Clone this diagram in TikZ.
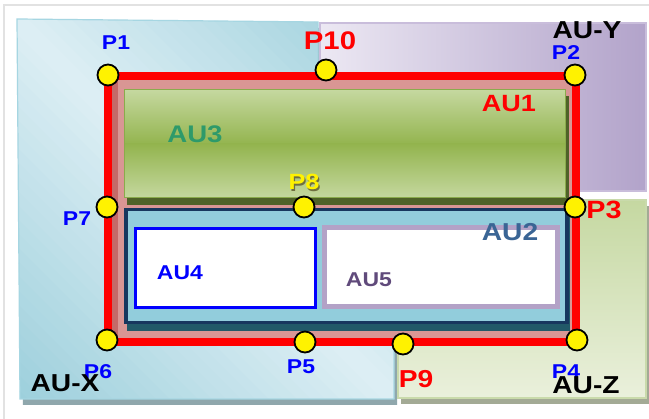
\documentclass[tikz,border=0pt]{standalone}
\usepackage{fontspec}
\setmainfont[FakeStretch=1.15]{Liberation Sans}
\definecolor{framegray}{HTML}{E2E2E2}
\definecolor{auxlight}{HTML}{DCEEF4}
\definecolor{auxdark}{HTML}{98CDDA}
\definecolor{auxedge}{HTML}{A6D6E2}
\definecolor{auxshadow}{HTML}{8FA7AC}
\definecolor{auylight}{HTML}{ECE8F3}
\definecolor{auydark}{HTML}{B2A3CA}
\definecolor{auyedge}{HTML}{C9BDDB}
\definecolor{auzlight}{HTML}{EAF0DC}
\definecolor{auzdark}{HTML}{C5D8A1}
\definecolor{auzedge}{HTML}{C9DAAB}
\definecolor{auzshadow}{HTML}{A3AA95}
\definecolor{redline}{HTML}{FF0000}
\definecolor{redshadow}{HTML}{6E1A1A}
\definecolor{pinkfill}{HTML}{D99694}
\definecolor{pinkdark}{HTML}{C46A68}
\definecolor{greenlight}{HTML}{C5D89F}
\definecolor{greenmid}{HTML}{93B44E}
\definecolor{greenedge}{HTML}{8AAB4C}
\definecolor{greenshadow}{HTML}{4F6228}
\definecolor{navy}{HTML}{17375E}
\definecolor{au2fill}{HTML}{92CDDC}
\definecolor{au2shadow}{HTML}{215968}
\definecolor{lavender}{HTML}{B3A2C7}
\definecolor{au3text}{HTML}{2E9A6A}
\definecolor{au2text}{HTML}{3A6595}
\definecolor{au5text}{HTML}{604A7B}
\definecolor{ptblue}{HTML}{0000FF}
\definecolor{txtshadow}{HTML}{6F6F40}
\newcommand{\shadowtxt}[1]{\makebox[0pt][l]{\raisebox{-1.3pt}{\hspace{1.3pt}\textcolor{txtshadow}{#1}}}\textcolor{yellow}{#1}}
\begin{document}
\begin{tikzpicture}[x=1pt,y=-1pt,
  lbl/.style={inner sep=0pt, font=\bfseries\fontsize{#1}{#1}\selectfont},
  lbl/.default=18,
  ptdot/.style={circle, draw=black, line width=1.8pt, fill=yellow, minimum size=21pt, inner sep=0pt},
  region/.style={line width=1.2pt},
]
\useasboundingbox (0,0) rectangle (649,419);
\fill[white] (0,0) rectangle (649,419);
% outer frame
\draw[framegray, line width=1.5pt] (4,419) -- (4,5) -- (649,5);

% AU-X region
\fill[auxshadow, shift={(3,6)}] (17,19) -- (318,22) -- (318,320) -- (394,320) -- (394,399) -- (20,399) -- cycle;
\begin{scope}
  \clip (17,19) -- (318,22) -- (318,320) -- (394,320) -- (394,399) -- (20,399) -- cycle;
  \begin{scope}[rotate around={45:(205,209)}]
    \foreach \i in {0,...,28} {
      \pgfmathtruncatemacro{\p}{\i*100/28}
      \fill[auxdark!\p!auxlight] ({205+\i*10-0.4},-200) rectangle ({205+(\i+1)*10+0.4},620);
      \fill[auxdark!\p!auxlight] ({205-(\i+1)*10-0.4},-200) rectangle ({205-\i*10+0.4},620);
    }
  \end{scope}
\end{scope}
\draw[region, auxedge] (17,19) -- (318,22) -- (318,320) -- (394,320) -- (394,399) -- (20,399) -- cycle;

% AU-Y region
\shade[left color=auylight, right color=auydark] (320,23) rectangle (646,191);
\draw[region, auyedge] (320,23) rectangle (646,191);

% AU-Z region
\fill[auzshadow, shift={(3,6)}] (398,200) rectangle (646,398);
\shade[top color=auzdark, bottom color=auzlight] (398,200) rectangle (646,398);
\draw[region, auzedge] (398,200) rectangle (646,398);

% red rectangle corners
\coordinate (c1) at (108,76);
\coordinate (c2) at (576,76);
\coordinate (c4) at (576,342);
\coordinate (c6) at (108,342);

% pink interior with shadow
\fill[redshadow] ([shift={(4,4)}]c1) rectangle ([shift={(4,4)}]c4);
\fill[pinkfill] (c1) rectangle (c4);
\fill[pinkdark] (112,80) rectangle (118,342);

% AU1 green box
\fill[greenshadow] (127,96) rectangle (569,205);
\shade[top color=greenlight, bottom color=greenmid] (124,90) rectangle (565,144.5);
\shade[top color=greenmid, bottom color=greenlight] (124,144) rectangle (565,198);
\draw[greenedge, line width=1pt] (124,90) rectangle (565,198);

% AU2 box
\fill[au2shadow] (127,212) rectangle (570,331);
\fill[au2fill, draw=navy, line width=3.5pt] (126,209.5) rectangle (567,322.5);

% AU4, AU5 boxes
\fill[white, draw=ptblue, line width=3pt] (135.5,228.5) rectangle (315,307.5);
\fill[white, draw=lavender, line width=5pt] (324,228) rectangle (557,307);

% red outline
\draw[redshadow, line width=8pt, shift={(3,4)}] (c2) -- (c4) -- (c6);
\draw[redline, line width=8pt, line join=miter] (c1) -- (c2) -- (c4) -- (c6) -- cycle;

% points
\node[ptdot] (P1) at (108,75) {};
\node[ptdot] (P2) at (575,75) {};
\node[ptdot] (P3) at (575,207) {};
\node[ptdot] (P4) at (577,340) {};
\node[ptdot] (P5) at (305,342) {};
\node[ptdot] (P6) at (107,340) {};
\node[ptdot] (P7) at (107,207) {};
\node[ptdot] (P8) at (304,207) {};
\node[ptdot] (P9) at (403,344) {};
\node[ptdot] (P10) at (326,70) {};

% labels
\node[lbl=20, ptblue] (tP1) at (116,43) {P1};
\node[lbl=25.5, redline] (tP10) at (330,41) {P10};
\node[lbl=24.5] (tAUY) at (587,30) {AU-Y};
\node[lbl=20, ptblue] (tP2) at (566,53) {P2};
\node[lbl=23.5, redline] (tAU1) at (509,104) {AU1};
\node[lbl=24, au3text] (tAU3) at (195,134) {AU3};
\node[lbl=22] (tP8) at (304,183) {\shadowtxt{P8}};
\node[lbl=20, ptblue] (tP7) at (77,219) {P7};
\node[lbl=25, redline] (tP3) at (604,210) {P3};
\node[lbl=24.5, au2text] (tAU2) at (510,232) {AU2};
\node[lbl=20, ptblue] (tAU4) at (180,273) {AU4};
\node[lbl=20, au5text] (tAU5) at (369,280) {AU5};
\node[lbl=20, ptblue] (tP6) at (98,372) {P6};
\node[lbl=24.5] (tAUX) at (65,383) {AU-X};
\node[lbl=20, ptblue] (tP5) at (301,367) {P5};
\node[lbl=24.5, redline] (tP9) at (416,379) {P9};
\node[lbl=20, ptblue] (tP4) at (566,372) {P4};
\node[lbl=24.5] (tAUZ) at (586,385) {AU-Z};
\end{tikzpicture}
\end{document}
